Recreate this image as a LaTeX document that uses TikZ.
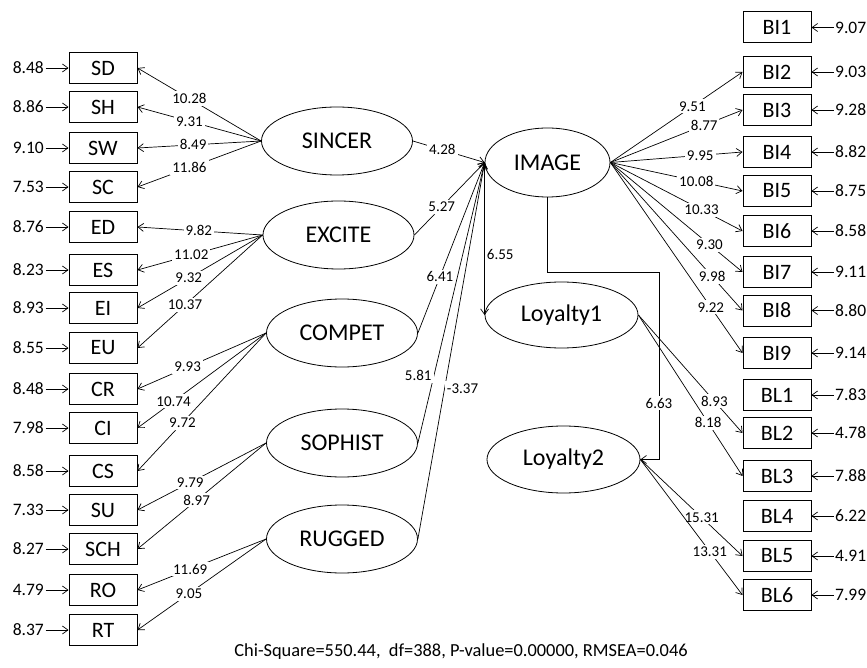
\documentclass[tikz,border=0pt]{standalone}
\usepackage{fontspec}
\setmainfont{Carlito}
\usetikzlibrary{shapes,arrows.meta,positioning,calc}
\tikzstyle{line} = [draw, line width=0.7pt, -{Straight Barb[length=5.5pt,width=8pt]}]
\tikzstyle{obs} = [draw, rectangle, line width=1pt, minimum width=68pt, minimum height=31pt, inner sep=0pt, font=\fontsize{22}{22}\selectfont]
\tikzstyle{latent} = [draw, ellipse, line width=0.8pt, minimum width=151pt, minimum height=68pt, inner sep=0pt, font=\fontsize{24}{24}\selectfont]
\tikzstyle{err} = [inner sep=1.5pt, font=\fontsize{17.5}{17.5}\selectfont]
\tikzstyle{coef} = [fill=white, inner sep=2pt, font=\fontsize{15}{15}\selectfont]

\begin{document}
\begin{tikzpicture}[x=1pt, y=-1pt]
    \useasboundingbox (0,0) rectangle (867,668);

    \node [obs] (SD) at (103,68) {SD};
    \node [obs, below=7pt of SD] (SH) {SH};
    \node [obs, below=9pt of SH] (SW) {SW};
    \node [obs, below=7pt of SW] (SC) {SC};
    \node [obs, below=8pt of SC] (ED) {ED};
    \node [obs, below=11pt of ED] (ES) {ES};
    \node [obs, below=6pt of ES] (EI) {EI};
    \node [obs, below=8pt of EI] (EU) {EU};
    \node [obs, below=9pt of EU] (CR) {CR};
    \node [obs, below=7pt of CR] (CI) {CI};
    \node [obs, below=11pt of CI] (CS) {CS};
    \node [obs, below=7pt of CS] (SU) {SU};
    \node [obs, below=7pt of SU] (SCH) {SCH};
    \node [obs, below=9pt of SCH] (RO) {RO};
    \node [obs, below=8pt of RO] (RT) {RT};

    \node [obs] (BI1) at (777,27.5) {BI1};
    \node [obs, below=12.5pt of BI1] (BI2) {BI2};
    \node [obs, below=6pt of BI2] (BI3) {BI3};
    \node [obs, below=10pt of BI3] (BI4) {BI4};
    \node [obs, below=7pt of BI4] (BI5) {BI5};
    \node [obs, below=8pt of BI5] (BI6) {BI6};
    \node [obs, below=9pt of BI6] (BI7) {BI7};
    \node [obs, below=6.5pt of BI7] (BI8) {BI8};
    \node [obs, below=10.5pt of BI8] (BI9) {BI9};
    \node [obs, below=10pt of BI9] (BL1) {BL1};
    \node [obs, below=6pt of BL1] (BL2) {BL2};
    \node [obs, below=11pt of BL2] (BL3) {BL3};
    \node [obs, below=8pt of BL3] (BL4) {BL4};
    \node [obs, below=8pt of BL4] (BL5) {BL5};
    \node [obs, below=7pt of BL5] (BL6) {BL6};

    \node [err, left=23pt of SD] (eSD) {8.48};
    \node [err, left=23pt of SH] (eSH) {8.86};
    \node [err, left=23pt of SW] (eSW) {9.10};
    \node [err, left=23pt of SC] (eSC) {7.53};
    \node [err, left=23pt of ED] (eED) {8.76};
    \node [err, left=23pt of ES] (eES) {8.23};
    \node [err, left=23pt of EI] (eEI) {8.93};
    \node [err, left=23pt of EU] (eEU) {8.55};
    \node [err, left=23pt of CR] (eCR) {8.48};
    \node [err, left=23pt of CI] (eCI) {7.98};
    \node [err, left=23pt of CS] (eCS) {8.58};
    \node [err, left=23pt of SU] (eSU) {7.33};
    \node [err, left=23pt of SCH] (eSCH) {8.27};
    \node [err, left=23pt of RO] (eRO) {4.79};
    \node [err, left=23pt of RT] (eRT) {8.37};

    \node [err, right=22pt of BI1] (eBI1) {9.07};
    \node [err, right=22pt of BI2] (eBI2) {9.03};
    \node [err, right=22pt of BI3] (eBI3) {9.28};
    \node [err, right=22pt of BI4] (eBI4) {8.82};
    \node [err, right=22pt of BI5] (eBI5) {8.75};
    \node [err, right=22pt of BI6] (eBI6) {8.58};
    \node [err, right=22pt of BI7] (eBI7) {9.11};
    \node [err, right=22pt of BI8] (eBI8) {8.80};
    \node [err, right=22pt of BI9] (eBI9) {9.14};
    \node [err, right=22pt of BL1] (eBL1) {7.83};
    \node [err, right=22pt of BL2] (eBL2) {4.78};
    \node [err, right=22pt of BL3] (eBL3) {7.88};
    \node [err, right=22pt of BL4] (eBL4) {6.22};
    \node [err, right=22pt of BL5] (eBL5) {4.91};
    \node [err, right=22pt of BL6] (eBL6) {7.99};

    \node [latent] (SINCER) at (337,141) {SINCER};
    \node [latent] (EXCITE) at (338.5,235) {EXCITE};
    \node [latent] (COMPET) at (342,333) {COMPET};
    \node [latent] (SOPHIST) at (342,443) {SOPHIST};
    \node [latent] (RUGGED) at (342,539) {RUGGED};
    \node [latent, minimum width=125pt, minimum height=69pt] (IMAGE) at (547.5,162.5) {IMAGE};
    \node [latent, minimum width=153pt, minimum height=66pt] (Loyalty1) at (561.5,315) {Loyalty1};
    \node [latent, minimum width=153pt, minimum height=67pt] (Loyalty2) at (563.5,459.5) {Loyalty2};
    \coordinate (elbow) at (659,272);

    \node [font=\fontsize{18.4}{18.4}\selectfont] (fitline) at (461,652) {Chi-Square=550.44,\ \ df=388, P-value=0.00000, RMSEA=0.046};

    \path [line] (eSD) -- (SD);
    \path [line] (eSH) -- (SH);
    \path [line] (eSW) -- (SW);
    \path [line] (eSC) -- (SC);
    \path [line] (eED) -- (ED);
    \path [line] (eES) -- (ES);
    \path [line] (eEI) -- (EI);
    \path [line] (eEU) -- (EU);
    \path [line] (eCR) -- (CR);
    \path [line] (eCI) -- (CI);
    \path [line] (eCS) -- (CS);
    \path [line] (eSU) -- (SU);
    \path [line] (eSCH) -- (SCH);
    \path [line] (eRO) -- (RO);
    \path [line] (eRT) -- (RT);

    \path [line] (eBI1) -- (BI1);
    \path [line] (eBI2) -- (BI2);
    \path [line] (eBI3) -- (BI3);
    \path [line] (eBI4) -- (BI4);
    \path [line] (eBI5) -- (BI5);
    \path [line] (eBI6) -- (BI6);
    \path [line] (eBI7) -- (BI7);
    \path [line] (eBI8) -- (BI8);
    \path [line] (eBI9) -- (BI9);
    \path [line] (eBL1) -- (BL1);
    \path [line] (eBL2) -- (BL2);
    \path [line] (eBL3) -- (BL3);
    \path [line] (eBL4) -- (BL4);
    \path [line] (eBL5) -- (BL5);
    \path [line] (eBL6) -- (BL6);

    \path [line] (SINCER.west) -- node [coef, pos=0.58] {10.28} (SD.east);
    \path [line] (SINCER.west) -- node [coef, pos=0.58] {9.31} (SH.east);
    \path [line] (SINCER.west) -- node [coef, pos=0.55] {8.49} (SW.east);
    \path [line] (SINCER.west) -- node [coef, pos=0.58] {11.86} (SC.east);
    \path [line] (EXCITE.west) -- node [coef, pos=0.51] {9.82} (ED.east);
    \path [line] (EXCITE.west) -- node [coef, pos=0.57] {11.02} (ES.east);
    \path [line] (EXCITE.west) -- node [coef, pos=0.59] {9.32} (EI.east);
    \path [line] (EXCITE.west) -- node [coef, pos=0.62] {10.37} (EU.east);
    \path [line] (COMPET.west) -- node [coef, pos=0.61] {9.93} (CR.east);
    \path [line] (COMPET.west) -- node [coef, pos=0.72] {10.74} (CI.east);
    \path [line] (COMPET.west) -- node [coef, pos=0.65] {9.72} (CS.east);
    \path [line] (SOPHIST.west) -- node [coef, pos=0.59] {9.79} (SU.east);
    \path [line] (SOPHIST.west) -- node [coef, pos=0.54] {8.97} (SCH.east);
    \path [line] (RUGGED.west) -- node [coef, pos=0.59] {11.69} (RO.east);
    \path [line] (RUGGED.west) -- node [coef, pos=0.6] {9.05} (RT.east);

    \path [line] (IMAGE.east) -- node [coef, pos=0.62] {9.51} (BI2.west);
    \path [line] (IMAGE.east) -- node [coef, pos=0.71] {8.77} (BI3.west);
    \path [line] (IMAGE.east) -- node [coef, pos=0.68] {9.95} (BI4.west);
    \path [line] (IMAGE.east) -- node [coef, pos=0.65] {10.08} (BI5.west);
    \path [line] (IMAGE.east) -- node [coef, pos=0.69] {10.33} (BI6.west);
    \path [line] (IMAGE.east) -- node [coef, pos=0.75] {9.30} (BI7.west);
    \path [line] (IMAGE.east) -- node [coef, pos=0.77] {9.98} (BI8.west);
    \path [line] (IMAGE.east) -- node [coef, pos=0.76] {9.22} (BI9.west);
    \path [line] (Loyalty1.east) -- node [coef, pos=0.73] {8.93} (BL2.west);
    \path [line] (Loyalty1.east) -- node [coef, pos=0.67] {8.18} (BL3.west);
    \path [line] (Loyalty2.east) -- node [coef, pos=0.6] {15.31} (BL5.west);
    \path [line] (Loyalty2.east) -- node [coef, pos=0.68] {13.31} (BL6.west);

    \path [line] (SINCER.east) -- node [coef, pos=0.41] {4.28} (IMAGE.west);
    \path [line] (EXCITE.east) -- node [coef, pos=0.39] {5.27} (IMAGE.west);
    \path [line] (COMPET.east) -- node [coef, pos=0.33] {6.41} (IMAGE.west);
    \path [line] (SOPHIST.east) -- node [coef, pos=0.24, left] {5.81} (IMAGE.west);
    \path [line] (RUGGED.east) -- node [coef, pos=0.4, right] {-3.37} (IMAGE.west);
    \path [line] (IMAGE.west) -- node [coef, pos=0.6, right] {6.55} (Loyalty1.west);
    \path [line] (IMAGE.south) |- (elbow) |- node [coef, pos=0.35] {6.63} (Loyalty2.east);
\end{tikzpicture}
\end{document}
